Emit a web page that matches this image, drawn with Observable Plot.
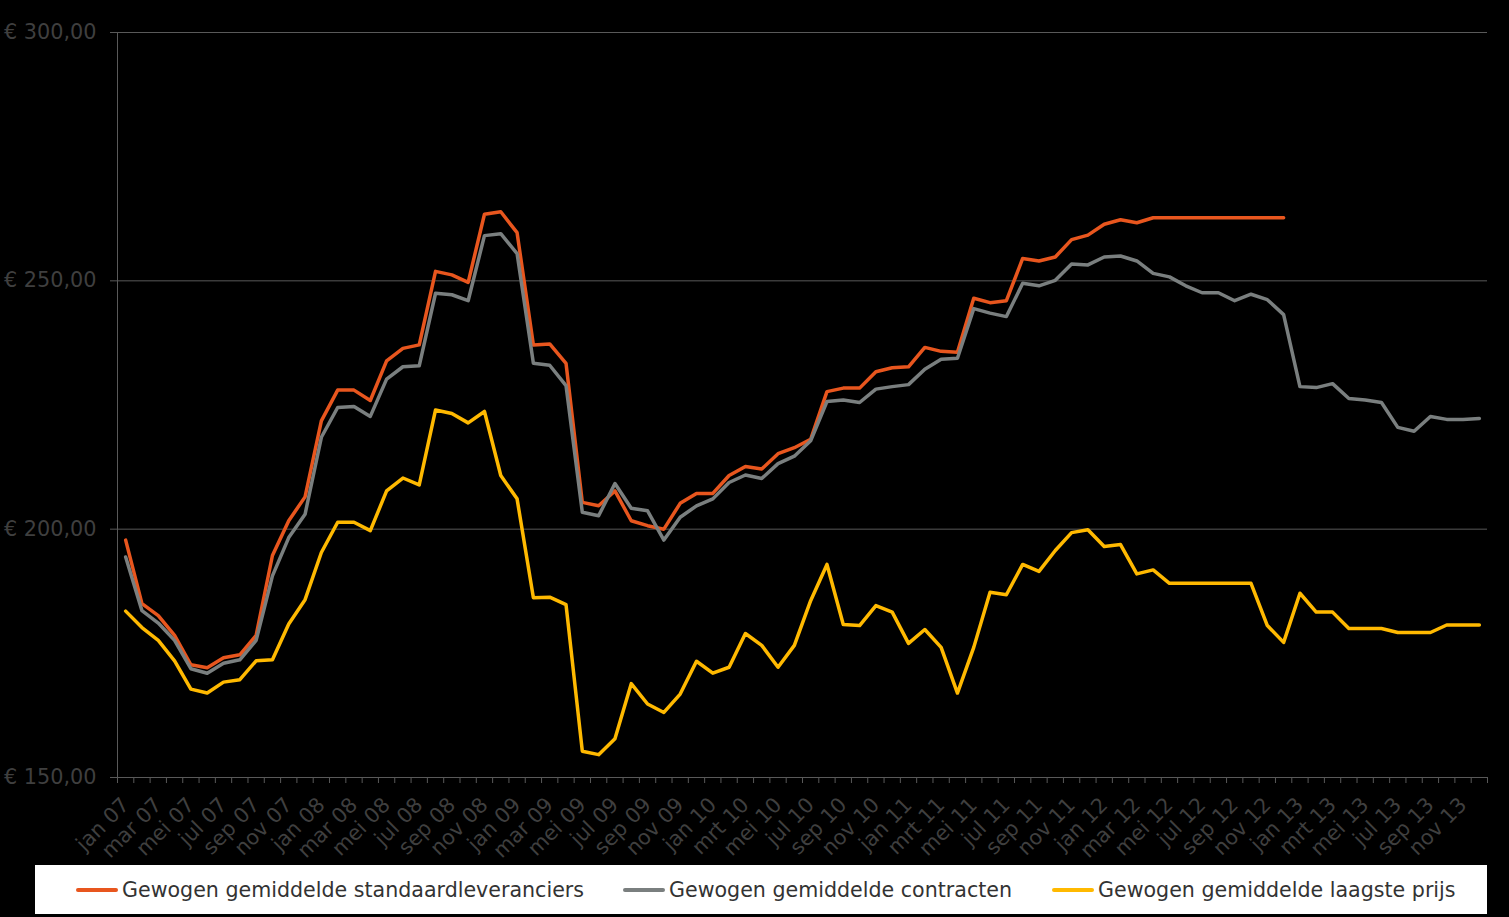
<!DOCTYPE html>
<html>
<head>
<meta charset="utf-8">
<script src="https://cdn.jsdelivr.net/npm/d3@7"></script>
<script src="https://cdn.jsdelivr.net/npm/@observablehq/plot@0.6"></script>
<style>
  html, body { margin: 0; padding: 0; background: #000; }
  #chart { width: 1509px; }
  #legend { position: relative; margin-left: 35px; margin-top: 3px; width: 1452px; height: 49px; background: #fff;
            font-family: "DejaVu Sans", Verdana, sans-serif; font-size: 20.6px; color: #333; }
  .item { position: absolute; top: 0; height: 49px; display: flex; align-items: center; white-space: nowrap; }
  .swatch { display: inline-block; width: 42px; height: 4px; border-radius: 2px; margin-right: 4px; }
</style>
</head>
<body>
<div id="chart"></div>
<div id="legend"></div>
<script>
// month tick labels (every second month)
const tickLabels = ["jan 07","mar 07","mei 07","jul 07","sep 07","nov 07",
  "jan 08","mar 08","mei 08","jul 08","sep 08","nov 08",
  "jan 09","mar 09","mei 09","jul 09","sep 09","nov 09",
  "jan 10","mrt 10","mei 10","jul 10","sep 10","nov 10",
  "jan 11","mrt 11","mei 11","jul 11","sep 11","nov 11",
  "jan 12","mar 12","mei 12","jul 12","sep 12","nov 12",
  "jan 13","mrt 13","mei 13","jul 13","sep 13","nov 13"];

const seriesNames = ["Gewogen gemiddelde standaardleveranciers","Gewogen gemiddelde contracten","Gewogen gemiddelde laagste prijs"];
const seriesColors = ["#E8561E","#7A7F7F","#FFB900"];

// monthly values jan 07 .. dec 13 (84 months)
const standaard = [
  197.8,185.0,182.6,178.6,172.7,172.1,174.1,174.7,178.6,194.7,201.7,206.5,
  221.8,228.0,228.0,225.9,233.9,236.4,237.1,251.9,251.2,249.7,263.4,263.9,
  259.7,237.1,237.3,233.4,205.4,204.7,207.7,201.7,200.7,200.0,205.2,207.2,
  207.2,210.8,212.6,212.1,215.2,216.4,218.1,227.7,228.4,228.4,231.7,232.5,
  232.7,236.6,235.8,235.6,246.5,245.6,246.0,254.5,254.0,254.8,258.3,259.2,
  261.4,262.3,261.7,262.7,262.7,262.7,262.7,262.7,262.7,262.7,262.7,262.7,
  null,null,null,null,null,null,null,null,null,null,null,null];
const contracten = [
  194.4,183.6,181.1,177.6,171.9,171.0,173.0,173.7,177.6,190.6,198.3,203.0,
  218.5,224.5,224.7,222.7,230.2,232.7,232.9,247.5,247.2,246.0,259.1,259.5,
  255.5,233.4,233.0,228.9,203.4,202.7,209.2,204.2,203.7,197.8,202.4,204.7,
  206.1,209.4,210.9,210.2,213.2,214.7,217.8,225.7,226.0,225.5,228.2,228.7,
  229.1,232.2,234.2,234.4,244.4,243.5,242.8,249.5,249.0,250.1,253.4,253.2,
  254.8,255.0,254.0,251.5,250.8,249.0,247.6,247.6,246.0,247.3,246.2,243.2,
  228.7,228.5,229.3,226.3,226.0,225.5,220.5,219.7,222.7,222.1,222.1,222.3];
const laagste = [
  183.5,180.2,177.6,173.5,167.8,167.0,169.2,169.7,173.5,173.7,180.9,185.8,
  195.3,201.4,201.4,199.7,207.7,210.3,208.9,224.0,223.3,221.4,223.7,210.8,
  206.1,186.2,186.3,184.8,155.3,154.6,157.8,168.9,164.8,163.1,166.8,173.4,
  171.0,172.2,179.0,176.6,172.2,176.6,185.6,192.9,180.8,180.6,184.6,183.3,
  177.0,179.8,176.2,167.0,176.2,187.3,186.8,192.9,191.5,195.7,199.3,199.9,
  196.5,196.9,191.0,191.8,189.1,189.1,189.1,189.1,189.1,189.1,180.6,177.2,
  187.1,183.3,183.3,180.0,180.0,180.0,179.2,179.2,179.2,180.7,180.7,180.7];

const yTicks = [150, 200, 250, 300];

const allSeries = [standaard, contracten, laagste];
const rows = [];
allSeries.forEach((arr, s) => arr.forEach((v, i) => rows.push({i, v, s: seriesNames[s]})));

const n = standaard.length;
const boundaries = d3.range(n + 1).map(i => i - 0.5);
const labelIdx = tickLabels.map((_, k) => k * 2);
const fmt = v => "€ " + d3.format(".2f")(v).replace(".", ",");
const axisGray = "#595959";
const textGray = "#3f3f3f";

const chart = Plot.plot({
  width: 1509,
  height: 862,
  marginLeft: 117,
  marginRight: 22,
  marginTop: 32,
  marginBottom: 85,
  style: {background: "#000", fontFamily: "'DejaVu Sans', Verdana, sans-serif", fontSize: "20.8px", color: textGray},
  x: {type: "linear", domain: [-0.5, n - 0.5]},
  y: {domain: [150, 300]},
  color: {domain: seriesNames, range: seriesColors},
  marks: [
    Plot.gridY(yTicks.slice(1), {stroke: axisGray, strokeOpacity: 1, strokeWidth: 1}),
    Plot.axisY(yTicks, {tickSize: 7, tickPadding: 14, tickFormat: fmt, stroke: axisGray, fill: textGray, label: null}),
    Plot.ruleX([-0.5], {stroke: axisGray, strokeWidth: 1}),
    Plot.ruleY([150], {stroke: axisGray, strokeWidth: 1}),
    Plot.axisX(boundaries, {tickSize: 6, tickFormat: () => "", stroke: axisGray, label: null}),
    Plot.axisX(labelIdx, {tickSize: 0, tickPadding: 24, tickRotate: -45, tickFormat: (d) => tickLabels[d / 2], fill: textGray, label: null}),
    Plot.line(rows, {x: "i", y: "v", z: "s", stroke: "s", strokeWidth: 3.5, strokeLinejoin: "round", strokeLinecap: "round"})
  ]
});
document.getElementById("chart").appendChild(chart);

const lg = document.getElementById("legend");
const lefts = [41, 588, 1017];
seriesNames.forEach((name, s) => {
  const it = document.createElement("div");
  it.className = "item";
  it.style.left = lefts[s] + "px";
  const sw = document.createElement("span");
  sw.className = "swatch";
  sw.style.background = seriesColors[s];
  it.appendChild(sw);
  it.appendChild(document.createTextNode(name));
  lg.appendChild(it);
});
</script>
</body>
</html>
